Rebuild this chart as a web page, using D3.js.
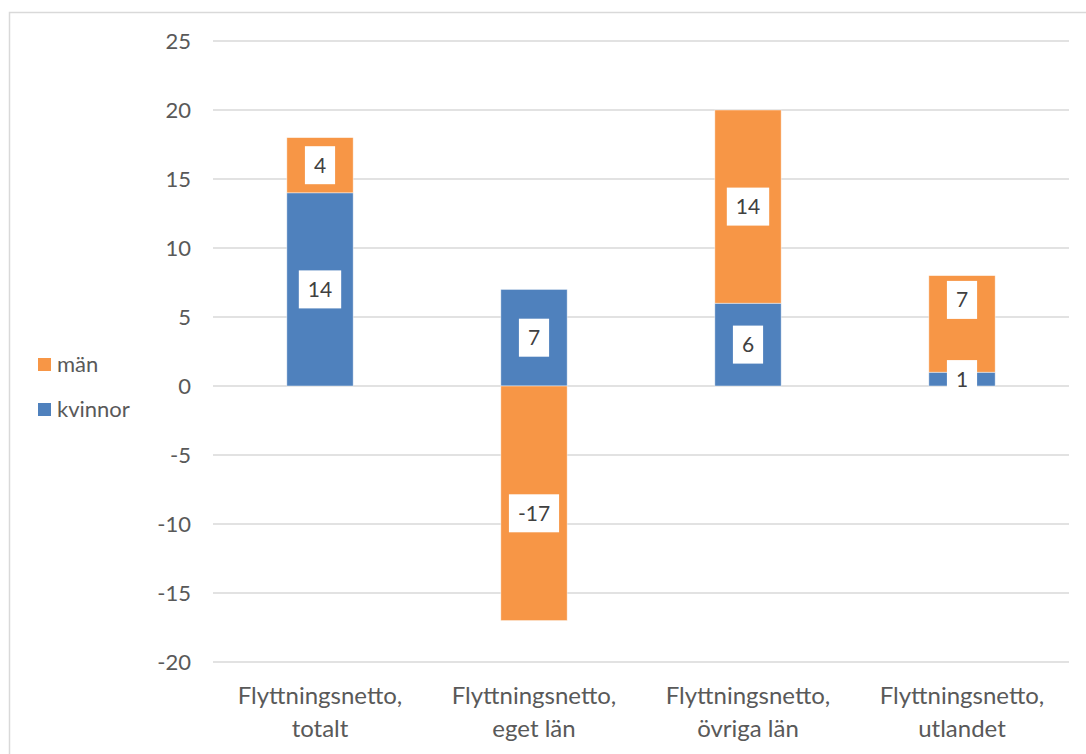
<!DOCTYPE html>
<html>
<head>
<meta charset="utf-8">
<script src="https://cdn.jsdelivr.net/npm/d3@7"></script>
<style>
body { margin: 0; background: #fff; }
svg text { font-family: Lato, "Open Sans", sans-serif; }
</style>
</head>
<body>
<svg id="plot" width="1086" height="754"></svg>
<script>
var categories = [["Flyttningsnetto,", "totalt"], ["Flyttningsnetto,", "eget län"], ["Flyttningsnetto,", "övriga län"], ["Flyttningsnetto,", "utlandet"]];
var kvinnor = [14, 7, 6, 1];
var man = [4, -17, 14, 7];
var yTicks = [-20, -15, -10, -5, 0, 5, 10, 15, 20, 25];
var seriesNames = ["män", "kvinnor"];
var colors = {"kvinnor": "#4F81BD", "män": "#F79646"};
// a couple of labels were dragged by hand in the original (pixels)
var labelShift = {"1-män": 10, "3-män": -24};

function whenDocumentLoaded(action) {
	if (document.readyState === "loading") {
		document.addEventListener("DOMContentLoaded", action);
	} else {
		action();
	}
}

whenDocumentLoaded(() => {
	var svg = d3.select("#plot");

	// chart frame
	svg.append("rect")
		.attr("x", 9.5).attr("y", 12.5)
		.attr("width", 1090).attr("height", 760)
		.attr("fill", "none")
		.attr("stroke", "#d9d9d9")
		.attr("stroke-width", 1.5);

	var xscale = d3.scaleBand()
		.domain(d3.range(categories.length))
		.range([213, 1069])
		.paddingInner(0.69)
		.paddingOuter(0.345);
	var yscale = d3.scaleLinear()
		.domain([-20, 25])
		.range([662, 41]);

	// gridlines
	svg.append("g").selectAll("line")
		.data(yTicks)
		.enter()
		.append("line")
		.attr("x1", 213).attr("x2", 1069)
		.attr("y1", d => yscale(d)).attr("y2", d => yscale(d))
		.attr("stroke", "#d9d9d9")
		.attr("stroke-width", 1.5);

	// y axis labels (plain hyphen for negatives, like the original)
	var yAxis = d3.axisLeft(yscale).tickValues(yTicks).tickSize(0).tickPadding(0).tickFormat(d => String(d));
	var yg = svg.append("g").attr("transform", "translate(191,0)").call(yAxis);
	yg.select(".domain").remove();
	yg.selectAll("text")
		.attr("font-size", 22)
		.attr("fill", "#595959")
		.style("font-family", "Lato, 'Open Sans', sans-serif");

	// stacked segments: positives stack up, negatives stack down
	var segs = [];
	for (var i = 0; i < categories.length; i++) {
		var pos = 0, neg = 0;
		[["kvinnor", kvinnor[i]], ["män", man[i]]].forEach(function(s) {
			var v = s[1], y0, y1;
			if (v >= 0) { y0 = pos; y1 = pos + v; pos = y1; }
			else { y0 = neg; y1 = neg + v; neg = y1; }
			segs.push({cat: i, series: s[0], value: v, y0: y0, y1: y1});
		});
	}

	svg.append("g").selectAll("rect")
		.data(segs)
		.enter()
		.append("rect")
		.attr("x", d => xscale(d.cat))
		.attr("width", xscale.bandwidth())
		.attr("y", d => yscale(Math.max(d.y0, d.y1)))
		.attr("height", d => Math.abs(yscale(d.y0) - yscale(d.y1)))
		.attr("fill", d => colors[d.series])
		.attr("stroke", "#fff")
		.attr("stroke-opacity", 0.6)
		.attr("stroke-width", 0.75);

	// data labels in white boxes
	var lg = svg.append("g").selectAll("g")
		.data(segs)
		.enter()
		.append("g")
		.attr("transform", d => "translate(" + (xscale(d.cat) + xscale.bandwidth() / 2) + "," +
			(yscale((d.y0 + d.y1) / 2) + (labelShift[d.cat + "-" + d.series] || 0)) + ")");
	lg.append("rect").attr("fill", "#fff");
	var lt = lg.append("text")
		.attr("text-anchor", "middle")
		.attr("dy", "0.36em")
		.attr("font-size", 21)
		.attr("fill", "#404040")
		.text(d => d.value);
	lt.each(function() {
		var w = this.getComputedTextLength();
		d3.select(this.previousSibling)
			.attr("x", -w / 2 - 9).attr("width", w + 18)
			.attr("y", -19).attr("height", 38);
	});

	// category labels
	var cg = svg.append("g").selectAll("text")
		.data(categories)
		.enter()
		.append("text")
		.attr("x", (d, i) => xscale(i) + xscale.bandwidth() / 2)
		.attr("y", 704)
		.attr("text-anchor", "middle")
		.attr("font-size", 24)
		.attr("fill", "#595959");
	cg.selectAll("tspan")
		.data(d => d)
		.enter()
		.append("tspan")
		.attr("x", function() { return this.parentNode.getAttribute("x"); })
		.attr("dy", (d, j) => j == 0 ? 0 : 33)
		.text(d => d);

	// legend
	var leg = svg.append("g").selectAll("g")
		.data(seriesNames)
		.enter()
		.append("g")
		.attr("transform", (d, i) => "translate(38," + (358 + i * 45) + ")");
	leg.append("rect")
		.attr("width", 13).attr("height", 13)
		.attr("fill", d => colors[d]);
	leg.append("text")
		.attr("x", 19).attr("y", 14)
		.attr("font-size", 22)
		.attr("fill", "#595959")
		.text(d => d);
});
</script>
</body>
</html>
